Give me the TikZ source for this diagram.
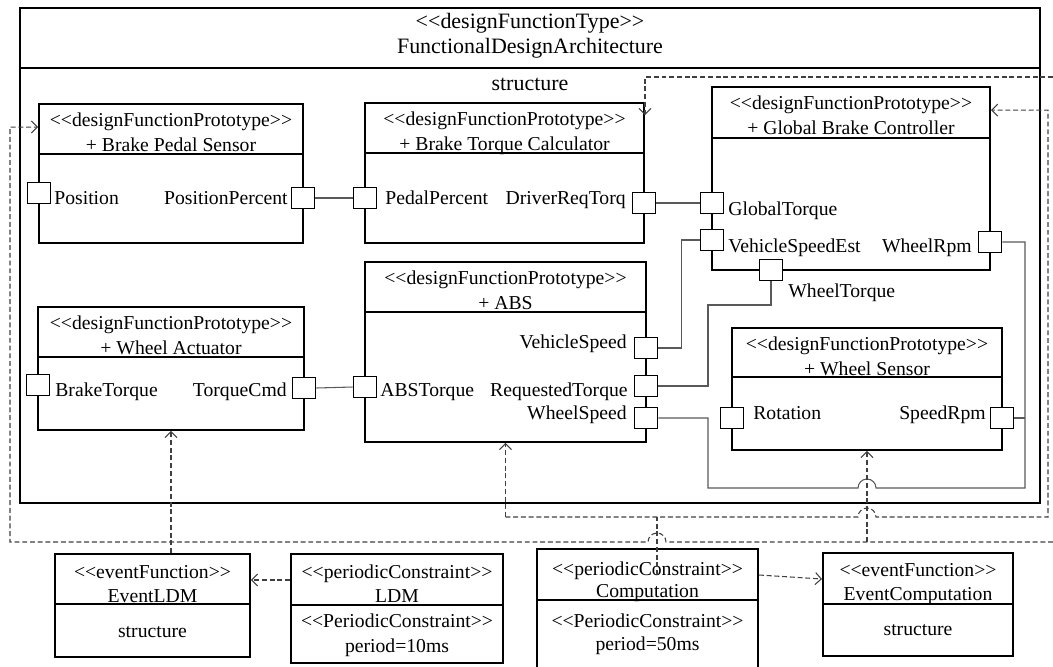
\documentclass[tikz,border=0pt]{standalone}
\usepackage{fontspec}
\setmainfont{Liberation Serif}
\usetikzlibrary{arrows.meta,fit}

\newcommand{\stereo}[1]{\mbox{<}\mbox{<}#1\mbox{>}\mbox{>}}
\tikzset{
  blk/.style={draw, line width=1.1pt, inner sep=0pt},
  prt/.style={draw, line width=1.1pt, fill=white, inner sep=0pt, minimum width=0.46cm, minimum height=0.42cm},
  lbl/.style={inner sep=0pt, anchor=base, font=\fontsize{11.2}{13}\selectfont},
  wire/.style={draw=black!65, line width=0.6pt},
  trig/.style={draw=black!75, line width=0.6pt, dash pattern=on 2.8pt off 1.6pt},
  trigarr/.style={trig, -{Straight Barb[length=1.2mm,width=2.4mm]}}
}
\newcommand{\protobox}[7]{%
  \node[blk, fit={(#2,#3) (#4,#5)}] (#1) {};
  \draw[line width=1.1pt] (#2,#6) -- (#4,#6);
  \node[lbl] (#1-st) at ({(#2+#4)/2},{#3+22}) {\stereo{designFunctionPrototype}};
  \node[lbl] (#1-nm) at ({(#2+#4)/2},{#3+47}) {+ #7};
}
\newcommand{\portsq}[3]{\node[prt] (#1) at (#2,#3) {};}

\begin{document}
\begin{tikzpicture}[x=0.02cm,y=-0.02cm]
  \clip (0,0) rectangle (1053,666);

  % architecture
  \node[blk, fit={(20,8) (1040,503)}] (fda) {};
  \draw[line width=1.1pt] (20,68) -- (1040,68);
  \node[lbl, font=\fontsize{12.5}{15}\selectfont] (fda-st) at (530,29) {\stereo{designFunctionType}};
  \node[lbl, font=\fontsize{12.5}{15}\selectfont] (fda-nm) at (530,53) {FunctionalDesignArchitecture};
  \node[lbl, font=\fontsize{12.5}{15}\selectfont] (fda-str) at (530,90) {structure};

  \protobox{bps}{39}{104}{303}{243}{154}{Brake Pedal Sensor}
  \protobox{btc}{365}{103}{644}{243}{153}{Brake Torque Calculator}
  \protobox{gbc}{712}{87}{990}{270}{138}{Global Brake Controller}
  \protobox{abs}{365}{262}{646}{442}{312}{ABS}
  \protobox{wa}{38}{307}{304}{430}{357}{Wheel Actuator}
  \protobox{ws}{732}{328}{1002}{450}{377}{Wheel Sensor}

  % ports
  \portsq{bps-pos}{39}{193}
  \portsq{bps-pp}{303}{198}
  \portsq{btc-pp}{365}{198}
  \portsq{btc-drt}{644}{203}
  \portsq{gbc-gt}{712}{203}
  \portsq{gbc-vse}{712}{240}
  \portsq{gbc-wr}{990}{242}
  \portsq{gbc-wt}{771}{270}
  \portsq{abs-vs}{646}{348}
  \portsq{abs-rt}{646}{386}
  \portsq{abs-ws}{646}{418}
  \portsq{abs-at}{365}{387}
  \portsq{wa-bt}{38}{385}
  \portsq{wa-tc}{304}{388}
  \portsq{ws-rot}{732}{418}
  \portsq{ws-sr}{1002}{418}

  \node[lbl, anchor=base west] (bps-pos-l) at (54,204) {Position};
  \node[lbl, anchor=base east] (bps-pp-l) at (288,204) {PositionPercent};
  \node[lbl, anchor=base west] (btc-pp-l) at (385,204) {PedalPercent};
  \node[lbl, anchor=base east] (btc-drt-l) at (626,204) {DriverReqTorq};
  \node[lbl, anchor=base west] (gbc-gt-l) at (728,215) {GlobalTorque};
  \node[lbl, anchor=base west] (gbc-vse-l) at (728,252) {VehicleSpeedEst};
  \node[lbl, anchor=base east] (gbc-wr-l) at (972,252) {WheelRpm};
  \node[lbl, anchor=base west] (gbc-wt-l) at (788,297) {WheelTorque};
  \node[lbl, anchor=base east] (abs-vs-l) at (627,348) {VehicleSpeed};
  \node[lbl, anchor=base east] (abs-rt-l) at (628,396) {RequestedTorque};
  \node[lbl, anchor=base east] (abs-ws-l) at (627,419) {WheelSpeed};
  \node[lbl, anchor=base west] (abs-at-l) at (380,396) {ABSTorque};
  \node[lbl, anchor=base west] (wa-bt-l) at (55,396) {BrakeTorque};
  \node[lbl, anchor=base east] (wa-tc-l) at (287,396) {TorqueCmd};
  \node[lbl, anchor=base west] (ws-rot-l) at (753,419) {Rotation};
  \node[lbl, anchor=base east] (ws-sr-l) at (986,419) {SpeedRpm};

  % connectors
  \draw[wire] (bps-pp.east) -- (btc-pp.west);
  \draw[wire] (btc-drt.east) -- (gbc-gt.west);
  \draw[wire] (wa-tc.east) -- (abs-at.west);
  \draw[wire] (gbc-vse.west) -- ++(-18,0) |- (abs-vs.east);
  \draw[wire] (gbc-wt.south) |- (708,305) |- (abs-rt.east);
  \draw[wire] (gbc-wr.east) -| (1025,488) -- (876,488)
    arc[start angle=0, end angle=180, radius=0.18cm] -- (708,488) |- (abs-ws.east);
  \draw[wire] (ws-sr.east) -- (1025,418);

  % events and constraints
  \node[blk, fit={(55,554) (250,657)}] (eldm) {};
  \draw[line width=1.1pt] (55,604) -- (250,604);
  \node[lbl] (eldm-st) at (152.5,578) {\stereo{eventFunction}};
  \node[lbl] (eldm-nm) at (152.5,602) {EventLDM};
  \node[lbl] (eldm-str) at (152.5,637) {structure};

  \node[blk, fit={(291,554) (503,663)}] (ldm) {};
  \draw[line width=1.1pt] (291,605) -- (503,605);
  \node[lbl] (ldm-st) at (397,578) {\stereo{periodicConstraint}};
  \node[lbl] (ldm-nm) at (397,602) {LDM};
  \node[lbl] (ldm-pc) at (397,627) {\stereo{PeriodicConstraint}};
  \node[lbl] (ldm-per) at (397,652) {period=10ms};

  \node[blk, fit={(537,549) (758,720)}] (comp) {};
  \draw[line width=1.1pt] (537,600) -- (758,600);
  \node[lbl] (comp-st) at (647.5,575) {\stereo{periodicConstraint}};
  \node[lbl] (comp-nm) at (647.5,597) {Computation};
  \node[lbl] (comp-pc) at (647.5,627) {\stereo{PeriodicConstraint}};
  \node[lbl] (comp-per) at (647.5,650) {period=50ms};

  \node[blk, fit={(823,553) (1013,656)}] (ecomp) {};
  \draw[line width=1.1pt] (823,604) -- (1013,604);
  \node[lbl] (ecomp-st) at (918,576) {\stereo{eventFunction}};
  \node[lbl] (ecomp-nm) at (918,600) {EventComputation};
  \node[lbl] (ecomp-str) at (918,635) {structure};

  % triggers
  \coordinate (east-top) at (1053,77);
  \coordinate (east-low) at (1053,542);
  \coordinate (comp-src) at (657,575);
  \draw[trigarr] (wa.south |- eldm.north) -- (wa.south);
  \draw[trigarr] (east-low) -- (666,542)
    arc[start angle=0, end angle=180, radius=0.18cm] -- (10,542) |- ([yshift=-0.48cm]bps.north west);
  \draw[trigarr] (ws.south |- east-low) -- (ws.south);
  \draw[trigarr] (abs.south |- 0,517) -- (abs.south);
  \draw[trigarr] (abs.south |- 0,517) -- (858,517)
    arc[start angle=180, end angle=0, radius=0.18cm] -- (1048,517) |- ([yshift=-0.48cm]gbc.north east);
  \draw[trig] (comp-src) -- (comp-src |- 0,517);
  \draw[trigarr] (east-top) -| ([yshift=-0.26cm]btc.north east);
  \draw[trigarr] (ldm.west |- 0,580) -- (eldm.east |- 0,580);
  \draw[trigarr] (comp.east |- 0,575) -- (ecomp.west |- 0,579);
\end{tikzpicture}
\end{document}
